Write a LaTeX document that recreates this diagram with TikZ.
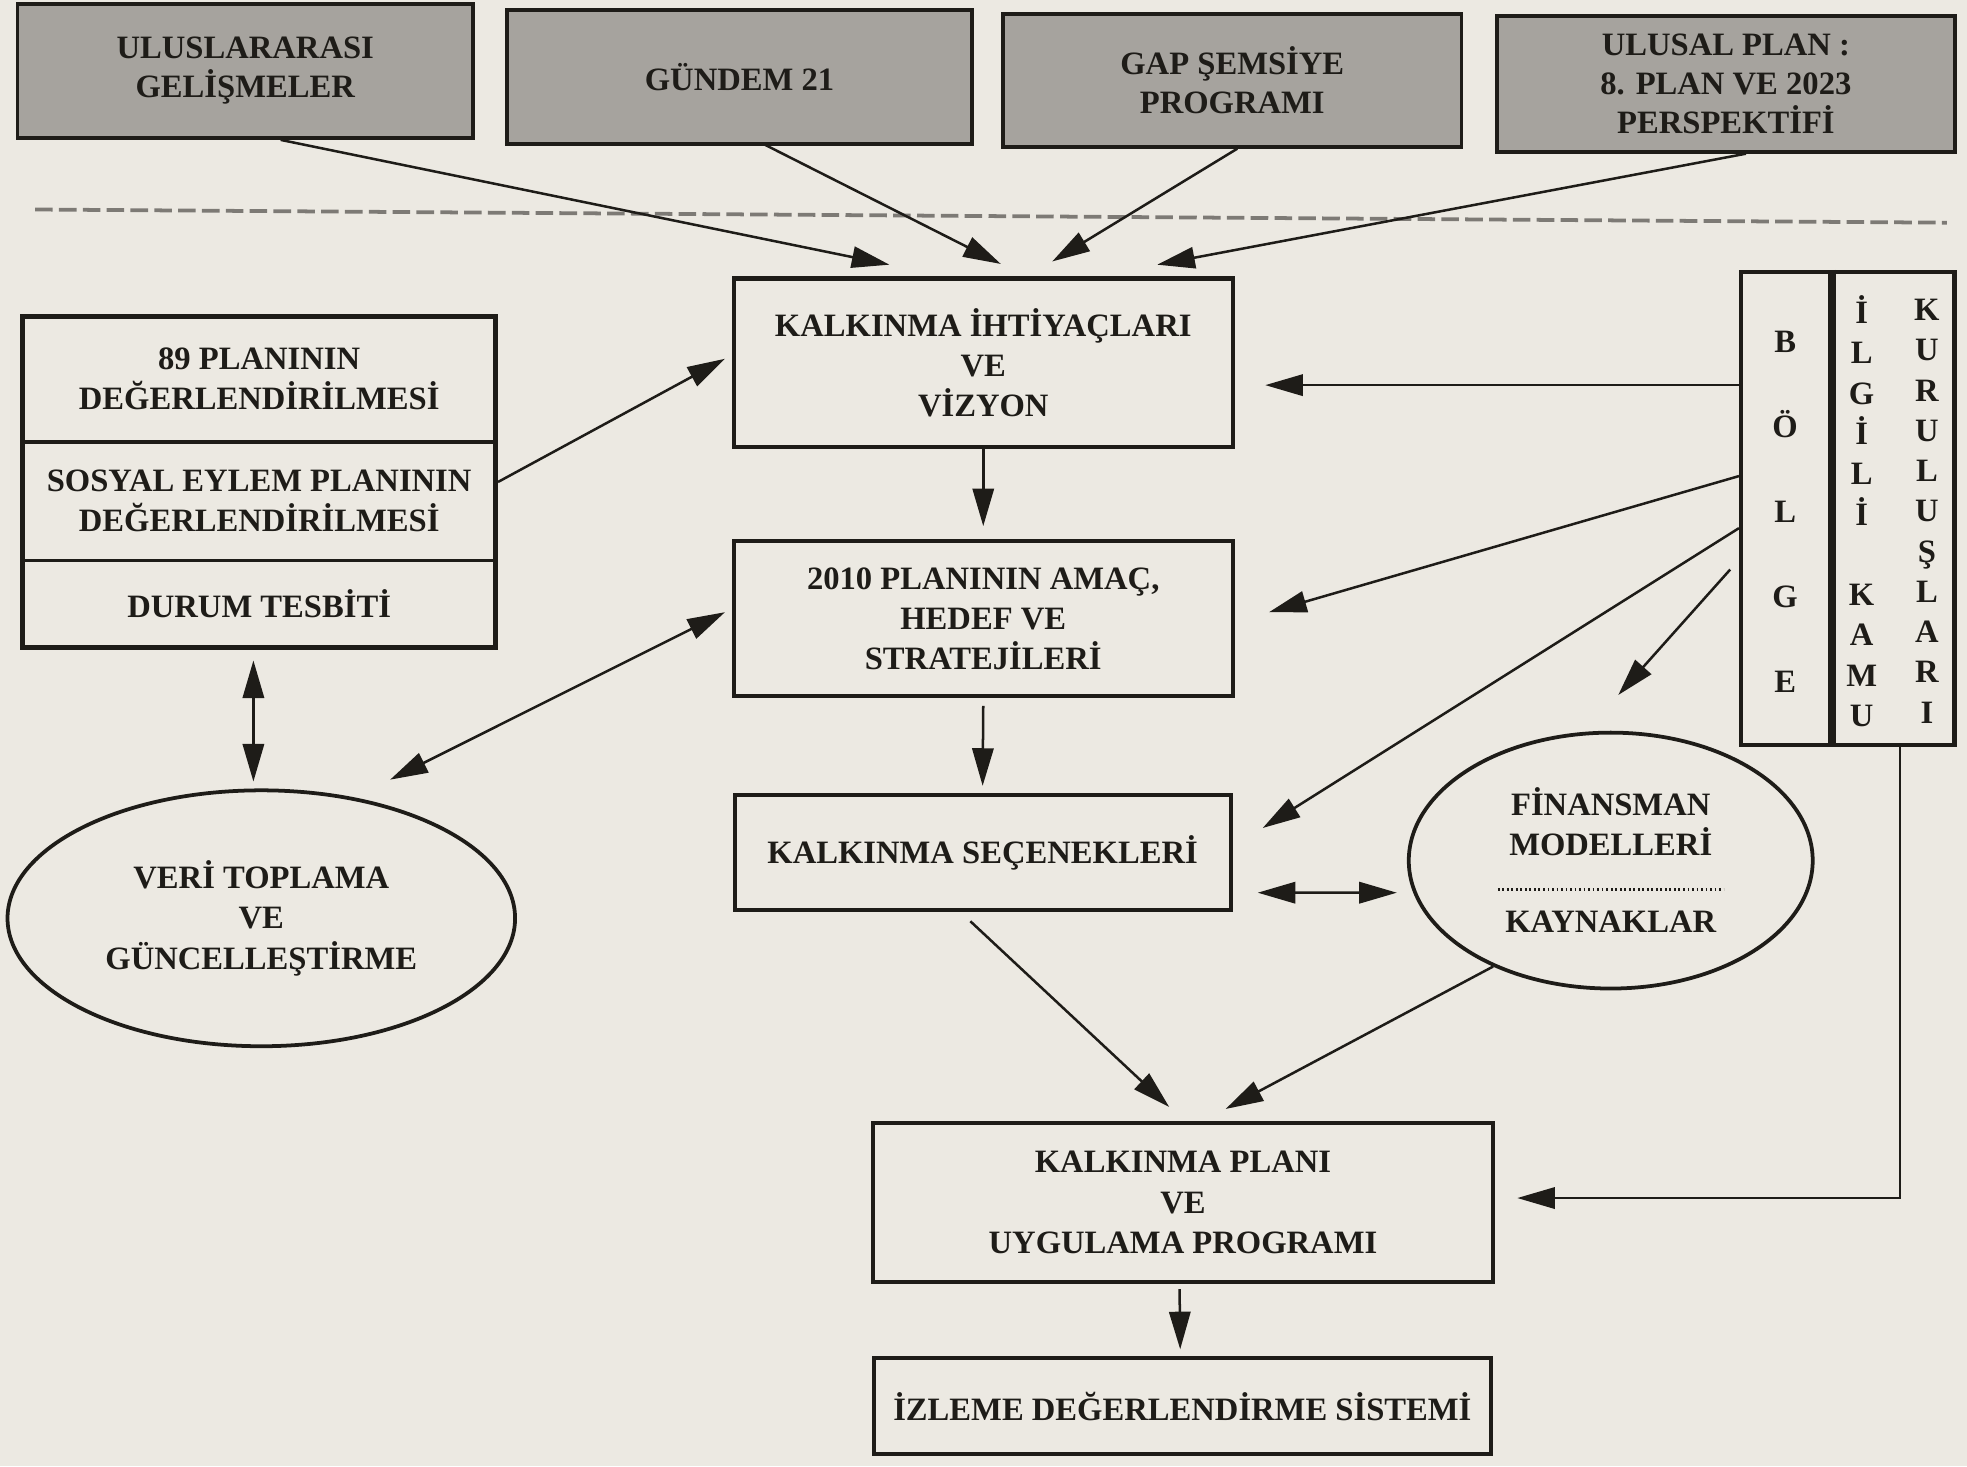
\documentclass[tikz,border=0pt]{standalone}
\usepackage{fontspec}
\setmainfont{Liberation Serif}
\usetikzlibrary{arrows.meta,calc,shapes.geometric}
\definecolor{paper}{RGB}{236,233,226}
\definecolor{ink}{RGB}{30,28,24}
\definecolor{topfill}{RGB}{166,163,158}
\definecolor{dashcol}{RGB}{125,122,117}
\begin{document}
\begin{tikzpicture}[x=0.5pt,y=-0.5pt,
  txt/.style={font=\fontsize{13}{16}\selectfont\bfseries, text=ink, align=center},
  box/.style={txt, draw=ink, line width=1.6pt, inner sep=0pt, rectangle},
  plain/.style={txt, inner sep=0pt, rectangle},
  topbox/.style={box, fill=topfill, line width=1.5pt, font=\fontsize{13}{15.5}\selectfont\bfseries},
  oval/.style={txt, ellipse, draw=ink, line width=1.5pt, inner sep=0pt},
  arr/.style={draw=ink, line width=1pt, -{Triangle[length=15pt,width=8.5pt]}},
  darr/.style={draw=ink, line width=1pt, {Triangle[length=15pt,width=8.5pt]}-{Triangle[length=15pt,width=8.5pt]}},
]
\fill[paper] (0,0) rectangle (1568,1169);
\useasboundingbox (0,0) rectangle (1568,1169);

% top boxes
\node[topbox, minimum width=181.5pt, minimum height=53.5pt] (b1) at (195.5,56.5) {ULUSLARARASI\\GELİŞMELER};
\node[topbox, minimum width=185.5pt, minimum height=53.5pt] (b2) at (589.5,61.5) {GÜNDEM 21};
\node[topbox, minimum width=182.7pt, minimum height=53pt] (b3) at (982.3,64) {GAP ŞEMSİYE\\PROGRAMI};
\node[topbox, minimum width=182.7pt, minimum height=54pt] (b4) at (1375.8,67) {ULUSAL PLAN :\\8. PLAN VE 2023\\PERSPEKTİFİ};

% dashed separator
\draw[dashcol, line width=1.5pt, dash pattern=on 7pt off 2.5pt] (28,167) -- (1552,177.5);

% centre column
\node[box, minimum width=198.8pt, minimum height=67pt] (k1) at (783.8,289) {KALKINMA İHTİYAÇLARI\\VE\\VİZYON};
\node[box, minimum width=198.8pt, minimum height=62pt] (k2) at (783.8,493) {2010 PLANININ AMAÇ,\\HEDEF VE\\STRATEJİLERİ};
\node[box, minimum width=197.7pt, minimum height=45.75pt] (k3) at (783.3,679.8) {KALKINMA SEÇENEKLERİ};
\node[box, minimum width=246.9pt, minimum height=63.5pt] (k4) at (943,958.5) {KALKINMA PLANI\\VE\\UYGULAMA PROGRAMI};
\node[box, minimum width=246pt, minimum height=38.2pt] (k5) at (942.5,1121) {İZLEME DEĞERLENDİRME SİSTEMİ};

% left stacked box
\node[plain, minimum width=188pt, minimum height=49.8pt] (l1) at (206.6,302.2) {89 PLANININ\\DEĞERLENDİRİLMESİ};
\node[plain, minimum width=188pt, minimum height=47.2pt] (l2) at (206.6,399.2) {SOSYAL EYLEM PLANININ\\DEĞERLENDİRİLMESİ};
\node[plain, minimum width=188pt, minimum height=34.55pt] (l3) at (206.6,481) {DURUM TESBİTİ};
\draw[ink, line width=2pt] (l1.north west) rectangle (l3.south east);
\draw[ink, line width=1.3pt] (l1.south west) -- (l1.south east);
\draw[ink, line width=1.3pt] (l2.south west) -- (l2.south east);

% left ellipse
\node[oval, minimum width=202.3pt, minimum height=102pt] (veri) at (208.3,732) {VERİ TOPLAMA\\VE\\GÜNCELLEŞTİRME};

% right vertical box
\node[box, line width=1.8pt, minimum width=35.5pt, minimum height=188.5pt] (rl) at (1423.5,405.5) {};
\node[box, line width=1.8pt, minimum width=49.5pt, minimum height=188.5pt] (rr) at (1508.5,405.5) {};
\draw[ink, line width=2.6pt] (rl.north east) -- (rl.south east);
\node[txt, font=\fontsize{13}{33.9}\selectfont\bfseries] (bolge) at (1423,408) {B\\Ö\\L\\G\\E};
\node[txt, font=\fontsize{13}{16.05}\selectfont\bfseries] (ilgili) at (1484,407.5) {İ\\L\\G\\İ\\L\\İ\\\mbox{}\\K\\A\\M\\U};
\node[txt, font=\fontsize{13}{16.05}\selectfont\bfseries] (kurulus) at (1536,407.5) {K\\U\\R\\U\\L\\U\\Ş\\L\\A\\R\\I};

% finance ellipse
\node[oval, minimum width=161pt, minimum height=102pt] (fin) at (1284,686) {};
\node[txt] (finA) at (1284,655) {FİNANSMAN\\MODELLERİ};
\draw[ink, line width=1.4pt, dash pattern=on 0.7pt off 1.1pt] ($(fin.center)+(-90,23)$) -- ($(fin.center)+(90,23)$);
\node[txt] (finB) at (1284,735) {KAYNAKLAR};

% connectors from top boxes
\draw[arr] ($(b1.south)+(28.2,0)$) -- ($(k1.north)+(-74.8,-9.4)$);
\draw[arr] ($(b2.south)+(20.5,-1)$) -- ($(k1.north)+(14,-10)$);
\draw[arr] ($(b3.south)+(4,0)$) -- ($(k1.north)+(55,-12)$);
\draw[arr] ($(b4.south)+(16,0)$) -- ($(k1.north)+(138.7,-9.4)$);

% left side
\draw[arr] ($(l2.east)+(2,-15)$) -- ($(k1.west)+(-5.5,-3)$);
\draw[darr] ($(veri.north)+(102.7,-7)$) -- ($(k2.west)+(-5.5,-5)$);
\draw[darr] ($(l3.south)+(-4.6,10.5)$) -- ($(veri.north)+(-6.3,-5.5)$);

% right side
\draw[arr] ($(rl.west)+(0,-98.5)$) -- ($(k1.east)+(24.4,18)$);
\draw[arr] ($(rl.west)+(0,-26)$) -- ($(k2.east)+(27.4,-5)$);
\draw[arr] ($(rl.west)+(0,15.5)$) -- ($(k3.east)+(24,-19.8)$);
\draw[arr] ($(rl.west)+(-7,48.5)$) -- ($(fin.north)+(6,-28.5)$);
\draw[arr] ($(rr.south)+(6,0)$) |- ($(k4.east)+(18,-3.5)$);

% centre flow
\draw[arr] (k1.south) -- ($(k2.north)+(0,-10)$);
\draw[arr] ($(k2.south)+(0,6)$) -- ($(k3.north)+(0,-6)$);
\draw[darr] ($(k3.east)+(20,31.8)$) -- ($(fin.west)+(-8,25.6)$);
\draw[arr] ($(k3.south)+(-9.8,7.2)$) -- ($(k4.north)+(-11,-11)$);
\draw[arr] (fin.222.5) -- ($(k4.north)+(34,-9.4)$);
\draw[arr] ($(k4.south)+(-2.7,4)$) -- ($(k5.north)+(-1.7,-5.6)$);
\end{tikzpicture}
\end{document}
